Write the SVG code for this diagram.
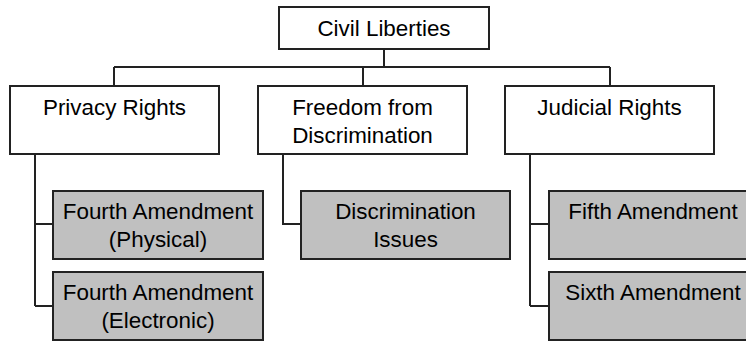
<svg xmlns="http://www.w3.org/2000/svg" width="746" height="342" viewBox="0 0 746 342">
<style>
.box{fill:#fff;stroke:#222;stroke-width:2}
.leaf{fill:#c0c0c0;stroke:#222;stroke-width:2}
.lbl{font-family:"Liberation Sans",Arial,sans-serif;font-size:22.4px;fill:#000;text-anchor:middle}
.conn{fill:none;stroke:#222;stroke-width:2}
</style>
<rect width="746" height="342" fill="#fff"/>
<g id="connectors" class="conn">
<path d="M384 49V67M114 67H610M114 67V86M363 67V86M610 67V86"/>
<path d="M35 154V306M35 224H53M35 306H53"/>
<path d="M283 154V224H301"/>
<path d="M530 154V306M530 224H549M530 306H549"/>
</g>
<g id="civil-liberties"><rect class="box" x="279" y="7" width="210" height="42"/><text class="lbl" x="384" y="35.5">Civil Liberties</text></g>
<g id="privacy-rights"><rect class="box" x="10" y="86" width="209" height="68"/><text class="lbl" x="114.5" y="114.5">Privacy Rights</text></g>
<g id="freedom"><rect class="box" x="258" y="86" width="209" height="68"/><text class="lbl" x="362.5" y="115">Freedom from</text><text class="lbl" x="362.5" y="142.5">Discrimination</text></g>
<g id="judicial-rights"><rect class="box" x="505" y="86" width="209" height="68"/><text class="lbl" x="609.5" y="114.5">Judicial Rights</text></g>
<g id="fourth-physical"><rect class="leaf" x="53" y="191" width="210" height="68"/><text class="lbl" x="158" y="219">Fourth Amendment</text><text class="lbl" x="158" y="246.5">(Physical)</text></g>
<g id="fourth-electronic"><rect class="leaf" x="53" y="272" width="210" height="68"/><text class="lbl" x="158" y="300">Fourth Amendment</text><text class="lbl" x="158" y="327.5">(Electronic)</text></g>
<g id="discrimination-issues"><rect class="leaf" x="301" y="191" width="209" height="68"/><text class="lbl" x="405.5" y="219">Discrimination</text><text class="lbl" x="405.5" y="246.5">Issues</text></g>
<g id="fifth-amendment"><rect class="leaf" x="549" y="191" width="210" height="68"/><text class="lbl" x="653" y="219">Fifth Amendment</text></g>
<g id="sixth-amendment"><rect class="leaf" x="549" y="272" width="210" height="68"/><text class="lbl" x="653" y="300">Sixth Amendment</text></g>
</svg>
